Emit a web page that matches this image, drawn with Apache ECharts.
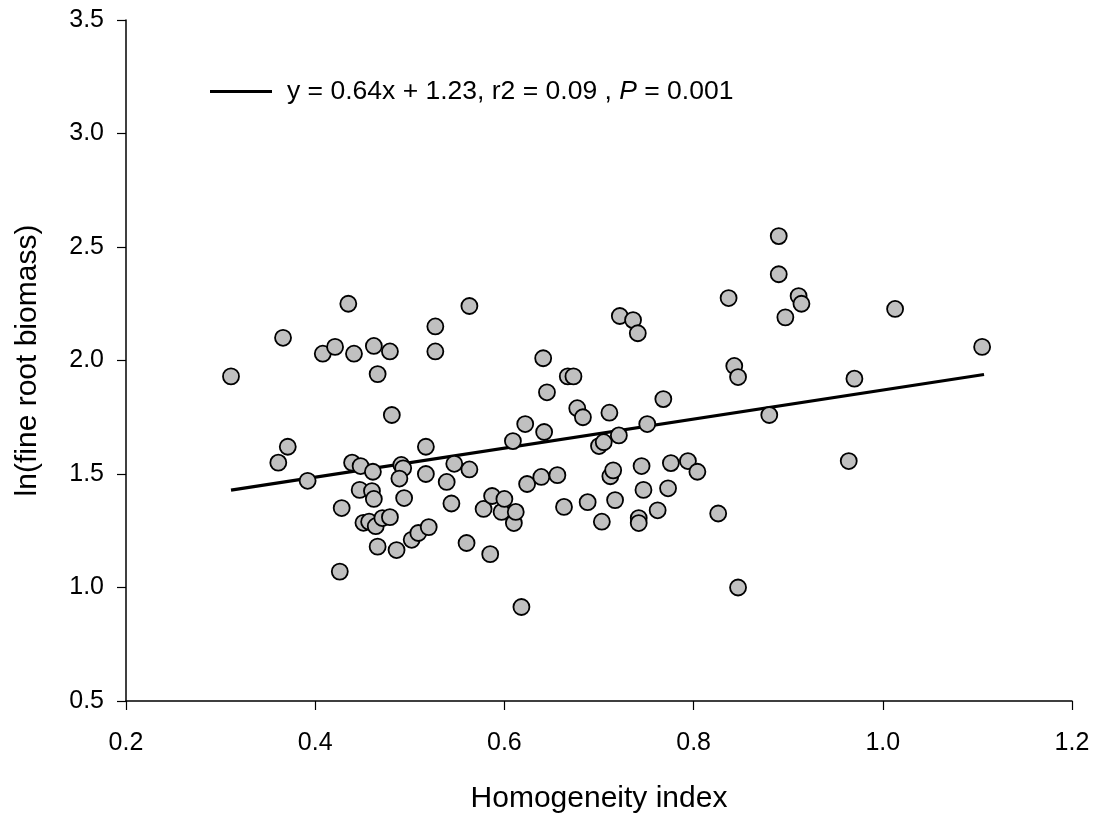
<!DOCTYPE html>
<html>
<head>
<meta charset="utf-8">
<title>Fine root biomass vs homogeneity index</title>
<script src="https://cdn.jsdelivr.net/npm/echarts@6/dist/echarts.min.js"></script>
<style>
  html, body { margin: 0; padding: 0; background: #fff; }
  #chart { width: 1094px; height: 816px; }
</style>
</head>
<body>
<div id="chart"></div>
<script>
// Homogeneity index of each plot
const homogeneity = [
  0.311, 0.361, 0.366, 0.371, 0.392, 0.408, 0.421, 0.426, 0.428, 0.435,
  0.439, 0.441, 0.448, 0.447, 0.451, 0.457, 0.460, 0.461, 0.462, 0.462,
  0.464, 0.466, 0.466, 0.471, 0.479, 0.479, 0.481, 0.486, 0.491, 0.493,
  0.489, 0.494, 0.502, 0.509, 0.517, 0.517, 0.520, 0.527, 0.527, 0.539,
  0.544, 0.547, 0.560, 0.563, 0.563, 0.578, 0.585, 0.587, 0.597, 0.600,
  0.609, 0.610, 0.612, 0.618, 0.622, 0.624, 0.639, 0.641, 0.642, 0.645,
  0.656, 0.663, 0.667, 0.673, 0.677, 0.683, 0.688, 0.700, 0.705, 0.703,
  0.711, 0.712, 0.715, 0.717, 0.721, 0.722, 0.736, 0.741, 0.742, 0.742,
  0.745, 0.747, 0.751, 0.762, 0.768, 0.773, 0.776, 0.794, 0.804, 0.826,
  0.837, 0.843, 0.847, 0.847, 0.880, 0.890, 0.890, 0.897, 0.911, 0.914,
  0.964, 0.970, 1.013, 1.105
];

// ln(fine root biomass) of the same plots
const lnBiomass = [
  1.93, 1.55, 2.10, 1.62, 1.47, 2.03, 2.06, 1.07, 1.35, 2.25,
  1.55, 2.03, 1.535, 1.43, 1.285, 1.29, 1.425, 1.51, 2.064, 1.39,
  1.27, 1.94, 1.18, 1.306, 1.31, 2.04, 1.76, 1.165, 1.54, 1.525,
  1.48, 1.394, 1.21, 1.24, 1.62, 1.50, 1.266, 2.15, 2.04, 1.465,
  1.37, 1.545, 1.196, 2.24, 1.52, 1.346, 1.147, 1.403, 1.333, 1.39,
  1.645, 1.284, 1.333, 0.914, 1.72, 1.456, 1.487, 2.01, 1.685, 1.86,
  1.495, 1.355, 1.93, 1.93, 1.79, 1.75, 1.376, 1.623, 1.64, 1.29,
  1.77, 1.49, 1.516, 1.385, 1.67, 2.196, 2.178, 2.12, 1.306, 1.284,
  1.535, 1.43, 1.72, 1.34, 1.83, 1.437, 1.548, 1.557, 1.51, 1.326,
  2.275, 1.976, 1.927, 1.00, 1.76, 2.548, 2.38, 2.19, 2.284, 2.25,
  1.557, 1.92, 2.227, 2.06
];

// Fitted regression: y = 0.64x + 1.23, drawn over the observed x range
const fitSlope = 0.64;
const fitIntercept = 1.23;
const fitRange = [0.311, 1.107];
const fitLabel = 'y = 0.64x + 1.23, r2 = 0.09 , ';
const fitP = '0.001';

const xTicks = { min: 0.2, max: 1.2, step: 0.2 };
const yTicks = { min: 0.5, max: 3.5, step: 0.5 };

const points = homogeneity.map((x, i) => [x, lnBiomass[i]]);
const fitLine = fitRange.map(x => [x, fitSlope * x + fitIntercept]);

const FONT = '"Liberation Sans", Arial, sans-serif';

const chart = echarts.init(document.getElementById('chart'), null, { renderer: 'canvas' });

chart.setOption({
  animation: false,
  backgroundColor: '#ffffff',
  textStyle: { fontFamily: FONT, color: '#000' },
  grid: {
    left: 126, right: 22, top: 20, bottom: 115,
    containLabel: false,
    outerBoundsMode: 'none'
  },
  legend: {
    data: [{ name: 'fit', icon: 'rect', itemStyle: { color: '#000' } }],
    left: 210,
    top: 78,
    padding: 0,
    itemWidth: 62,
    itemHeight: 3,
    formatter: () => '{n|' + fitLabel + '}{p|P}{n| = ' + fitP + '}',
    textStyle: {
      padding: [0, 0, 0, 10],
      rich: {
        n: { fontFamily: FONT, fontSize: 26.5, color: '#000' },
        p: { fontFamily: FONT, fontSize: 26.5, fontStyle: 'italic', color: '#000' }
      }
    }
  },
  xAxis: {
    type: 'value',
    min: xTicks.min,
    max: xTicks.max,
    interval: xTicks.step,
    name: 'Homogeneity index',
    nameLocation: 'middle',
    nameGap: 83,
    nameTextStyle: { fontFamily: FONT, fontSize: 30, color: '#000' },
    axisLine: { onZero: false, lineStyle: { color: '#000', width: 1.5 } },
    axisTick: { show: true, inside: false, length: 9, lineStyle: { color: '#000', width: 1.2 } },
    axisLabel: {
      margin: 30,
      fontFamily: FONT, fontSize: 25, color: '#000',
      formatter: v => v.toFixed(1)
    },
    splitLine: { show: false }
  },
  yAxis: {
    type: 'value',
    min: yTicks.min,
    max: yTicks.max,
    interval: yTicks.step,
    name: 'ln(fine root biomass)',
    nameLocation: 'middle',
    nameGap: 83,
    nameTextStyle: { fontFamily: FONT, fontSize: 30, color: '#000' },
    axisLine: { onZero: false, lineStyle: { color: '#000', width: 1.5 } },
    axisTick: { show: true, inside: false, length: 9, lineStyle: { color: '#000', width: 1.2 } },
    axisLabel: {
      margin: 22,
      fontFamily: FONT, fontSize: 25, color: '#000',
      formatter: v => v.toFixed(1)
    },
    splitLine: { show: false }
  },
  series: [
    {
      name: 'fit',
      type: 'line',
      data: fitLine,
      symbol: 'none',
      z: 3,
      itemStyle: { color: '#000' },
      lineStyle: { color: '#000', width: 3.2 },
      silent: true
    },
    {
      name: 'plots',
      type: 'scatter',
      data: points,
      symbol: 'circle',
      symbolSize: 16,
      z: 4,
      itemStyle: { color: '#c0c0c0', borderColor: '#000', borderWidth: 1.8, opacity: 1 }
    }
  ]
});
</script>
</body>
</html>
